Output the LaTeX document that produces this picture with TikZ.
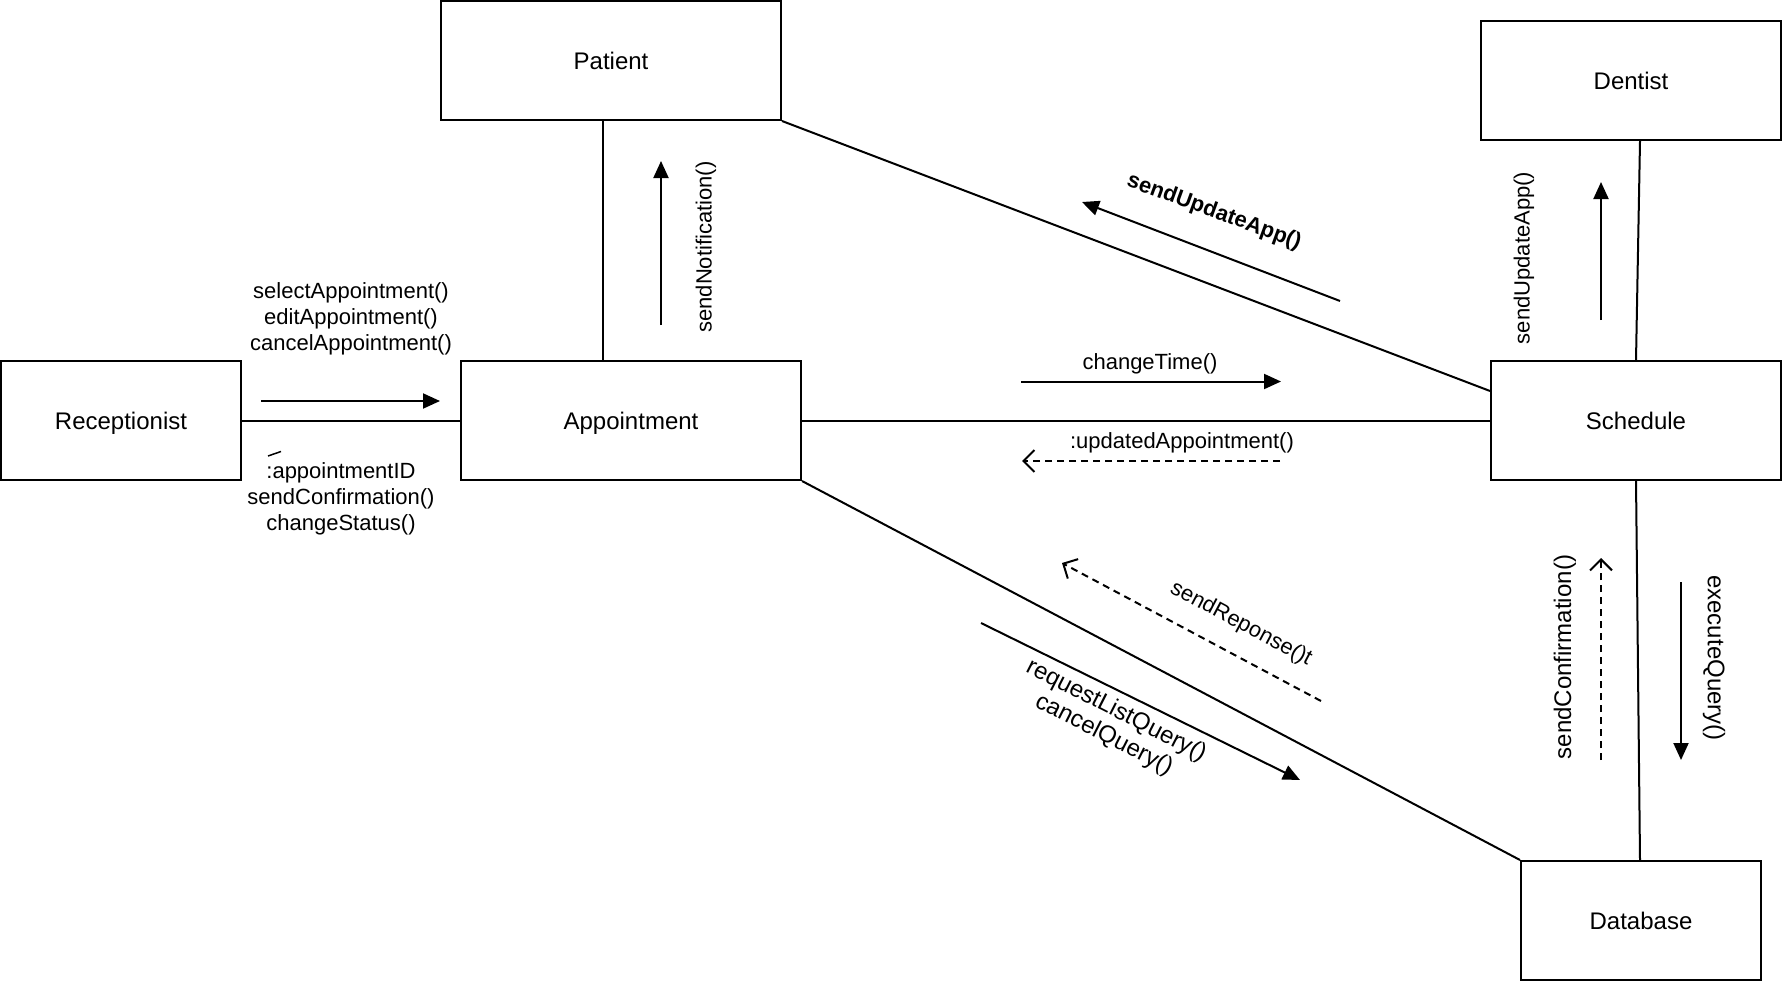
\documentclass[tikz,border=0pt]{standalone}
\usepackage{fontspec}
\setmainfont{Liberation Sans}
\usetikzlibrary{arrows.meta}
\begin{document}
\begin{tikzpicture}[x=1pt,y=-1pt,
  box/.style={draw, line width=2pt, inner sep=0pt, minimum height=119pt, text height=18pt, text depth=0pt, font=\fontsize{24}{28}\selectfont},
  link/.style={line width=2pt},
  msg/.style={line width=2pt, -{Triangle[length=17pt,width=15pt]}},
  reply/.style={line width=2pt, dash pattern=on 7pt off 5pt, -{Straight Barb[length=11pt,width=22pt]}},
  lbl/.style={font=\fontsize{22}{26}\selectfont, inner sep=0pt, align=center},
  biglbl/.style={lbl, font=\fontsize{24}{27}\selectfont}]
\useasboundingbox (0,0) rectangle (1782,982);

% objects
\node[box, minimum width=340pt] (pat) at (611,60.5) {Patient};
\node[box, minimum width=300pt] (den) at (1631,80.5) {Dentist};
\node[box, minimum width=240pt] (rec) at (121,420.5) {Receptionist};
\node[box, minimum width=340pt] (app) at (631,420.5) {Appointment};
\node[box, minimum width=290pt] (sch) at (1636,420.5) {Schedule};
\node[box, minimum width=240pt] (db) at (1641,920.5) {Database};

% links
\draw[link] (rec.east) -- (app.west);
\draw[link] ([xshift=-8pt]pat.south) -- ([xshift=-28pt]app.north);
\draw[link] (pat.south east) -- ([yshift=29.5pt]sch.west);
\draw[link] (app.east) -- (sch.west);
\draw[link] (app.south east) -- (db.north west);
\draw[link] ([xshift=9pt]den.south) -- (sch.north);
\draw[link] (sch.south) -- ([xshift=-1pt]db.north);

% messages
\coordinate (m1s) at (261,401); \coordinate (m1e) at (440,401);
\draw[msg] (m1s) -- (m1e);
\node[lbl] (l1a) at (351,319) {selectAppointment()\\editAppointment()\\cancelAppointment()};
\node[lbl] (l1b) at (341,499) {:appointmentID\\sendConfirmation()\\changeStatus()};
\draw[line width=1.5pt] (268,456) -- (281,451.5);

\coordinate (m2s) at (661,325); \coordinate (m2e) at (661,161);
\draw[msg] (m2s) -- (m2e);
\node[lbl, rotate=90] (l2) at (706,247) {sendNotification()};

\coordinate (m3s) at (1340,301); \coordinate (m3e) at (1082,202);
\draw[msg] (m3s) -- (m3e);
\node[lbl, rotate=-20, font=\fontsize{22}{26}\selectfont\bfseries] (l3) at (1214,212) {sendUpdateApp()};

\coordinate (m4s) at (1601,320); \coordinate (m4e) at (1601,182);
\draw[msg] (m4s) -- (m4e);
\node[lbl, rotate=90] (l4) at (1524,258) {sendUpdateApp()};

\coordinate (m5s) at (1021,381.5); \coordinate (m5e) at (1281,381.5);
\draw[msg] (m5s) -- (m5e);
\node[lbl] (l5) at (1150,364) {changeTime()};

\coordinate (m6s) at (1280,461); \coordinate (m6e) at (1022,461);
\draw[reply] (m6s) -- (m6e);
\node[lbl] (l6) at (1182,443) {:updatedAppointment()};

\coordinate (m7s) at (1321,701); \coordinate (m7e) at (1062,563);
\draw[reply] (m7s) -- (m7e);
\node[lbl, rotate=-28] (l7) at (1241,624) {sendReponse()t};

\coordinate (m8s) at (981,623); \coordinate (m8e) at (1300,780);
\draw[msg] (m8s) -- (m8e);
\node[biglbl, rotate=-27] (l8) at (1110,723) {requestListQuery()\\cancelQuery()};

\coordinate (m9s) at (1601,760); \coordinate (m9e) at (1601,558);
\draw[reply] (m9s) -- (m9e);
\node[biglbl, rotate=90] (l9) at (1565,657) {sendConfirmation()};

\coordinate (m10s) at (1681,582); \coordinate (m10e) at (1681,760);
\draw[msg] (m10s) -- (m10e);
\node[biglbl, rotate=-90] (l10) at (1714,658) {executeQuery()};
\end{tikzpicture}
\end{document}
